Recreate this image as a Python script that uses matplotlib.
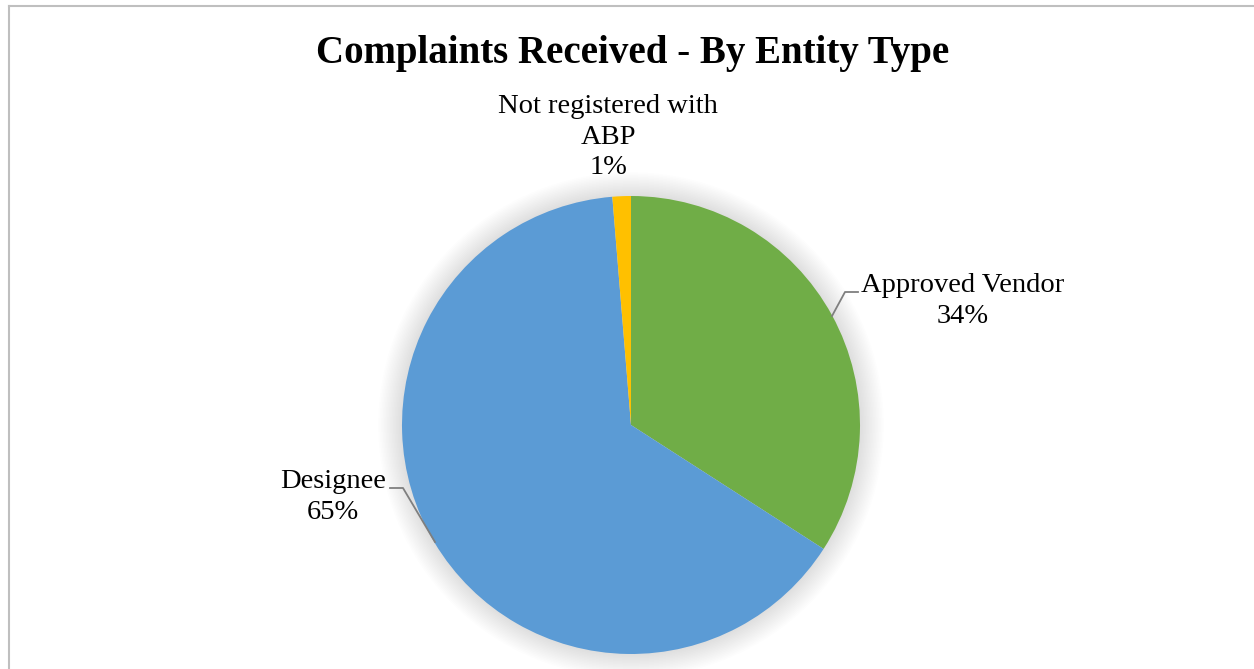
import matplotlib.pyplot as plt
from matplotlib.patches import Circle
from matplotlib.lines import Line2D

plt.rcParams['font.family'] = ['Liberation Serif', 'DejaVu Serif']

# 데이터 : 민원 접수 - 주체 유형별
labels = ['Approved Vendor', 'Designee', 'Not registered with\nABP']
shares = [34.1, 64.6, 1.3]
colors = ['#70AD47', '#5B9BD5', '#FFC000']

W, H = 1254, 669
fig = plt.figure(figsize=(W / 100, H / 100), dpi=100)

# 파이 중심(631, 425), 반지름 229 픽셀
cx, cy, r = 631, 425, 229
ax = fig.add_axes([(cx - r) / W, (H - cy - r) / H, 2 * r / W, 2 * r / H])

wedges, _ = ax.pie(shares, colors=colors, startangle=90, counterclock=False,
                   radius=1, wedgeprops=dict(linewidth=0))
for w in wedges:
    w.set_zorder(2)

# pie()가 축 범위를 바꾸므로 다시 지정
ax.set_xlim(-1, 1)
ax.set_ylim(-1, 1)
ax.set_aspect('equal')
ax.axis('off')

# 부드러운 그림자
for k in range(16):
    ax.add_patch(Circle((0, 0), 1 + 0.0065 * (k + 1), color='#000000',
                        alpha=0.007, lw=0, zorder=0, clip_on=False))

def d(px, py):
    return (px - cx) / r, (cy - py) / r

# 레이블
pct = [f'{round(s)}%' for s in shares]
pos = [d(963, 301), d(333, 497), d(608, 137)]
for lab, p, (x, y) in zip(labels, pct, pos):
    ax.text(x, y, lab + '\n' + p, ha='center', va='center', fontsize=20.5,
            linespacing=1.3, color='#000000', clip_on=False)

# 지시선
for pts in [[(832, 316), (845, 292), (858, 292)],
            [(435, 542), (403, 488), (390, 488)]]:
    xs, ys = zip(*[d(*q) for q in pts])
    ax.plot(xs, ys, color='#7F7F7F', lw=1.3, clip_on=False, zorder=3)

fig.text(633 / W, 1 - 53 / H, 'Complaints Received - By Entity Type',
         ha='center', va='center', fontsize=28, fontweight='bold')

# 바깥 테두리
fig.add_artist(Line2D([8.5 / W, 8.5 / W], [0, 1 - 5.5 / H], color='#BFBFBF', lw=1.5))
fig.add_artist(Line2D([8.5 / W, 1], [1 - 5.5 / H, 1 - 5.5 / H], color='#BFBFBF', lw=1.5))

fig.savefig('out.png', dpi=100)
